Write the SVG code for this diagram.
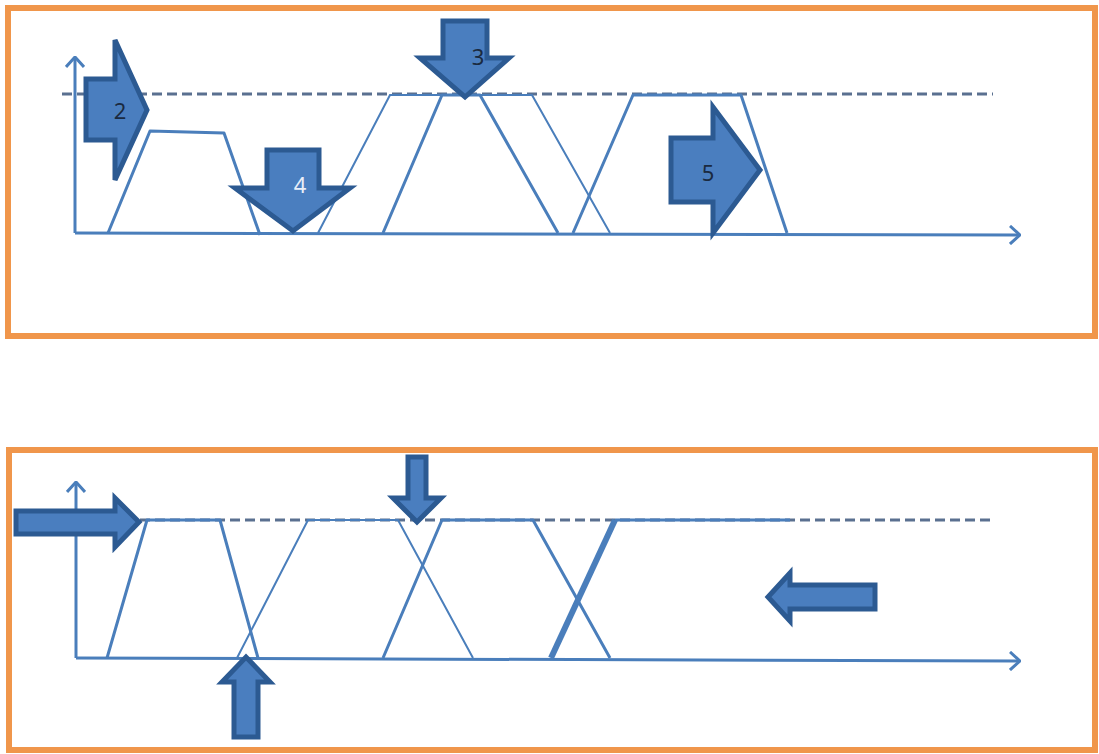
<svg xmlns="http://www.w3.org/2000/svg" width="1099" height="754" viewBox="0 0 1099 754">
  <style>
    .frame { fill: #ffffff; stroke: #f0964b; stroke-width: 6; }
    .axis { fill: none; stroke: #4a7ebb; stroke-width: 3; }
    .guide { fill: none; stroke: #5a7090; stroke-width: 3; stroke-dasharray: 10 5; }
    .curve { fill: none; stroke: #4a7ebb; stroke-width: 3; stroke-linejoin: round; }
    .thin { fill: none; stroke: #4a7ebb; stroke-width: 2; }
    .bold { fill: none; stroke: #4a7ebb; stroke-width: 6; }
    .block { fill: #4a7ebf; stroke: #2c5a92; stroke-width: 5; stroke-linejoin: miter; }
    .lbl { font-family: "Noto Sans", "Liberation Sans", sans-serif; font-size: 22px; text-anchor: middle; fill: #1a2a40; }
    .lbl-light { fill: #e8eef8; }
  </style>
  <defs>
    <marker id="chev" viewBox="0 0 12 20" refX="11" refY="10" markerWidth="12" markerHeight="20" markerUnits="userSpaceOnUse" orient="auto">
      <path d="M1,1 L11,10 L1,19" fill="none" stroke="#4a7ebb" stroke-width="3"/>
    </marker>
  </defs>

  <!-- upper panel -->
  <rect class="frame" x="8" y="8" width="1087" height="328"/>
  <g id="top-axes">
    <path class="axis" d="M75,233 L75,57" marker-end="url(#chev)"/>
    <path class="axis" d="M75,233 L1020,235" marker-end="url(#chev)"/>
    <path class="guide" d="M62,94 L993,94"/>
  </g>
  <g id="top-curves">
    <path class="curve" d="M108,233 L150,131 L224,133 L260,235"/>
    <path class="thin" d="M318,233 L390,95 L532,95 L610,233"/>
    <path class="curve" d="M383,233 L442,95 L480,95 L558,233"/>
    <path class="curve" d="M573,233 L633,95 L741,95 L787,233"/>
  </g>
  <g id="arrow-2">
    <polygon class="block" points="86,79 115,79 115,40 147,110 115,180 115,140 86,140"/>
    <text class="lbl" x="120" y="119">2</text>
  </g>
  <g id="arrow-4">
    <polygon class="block" points="267,150 319,150 319,188 350,188 293,231 235,188 267,188"/>
    <text class="lbl lbl-light" x="300" y="193">4</text>
  </g>
  <g id="arrow-3">
    <polygon class="block" points="443,21 487,21 487,58 509,58 465,97 420,58 443,58"/>
    <text class="lbl" x="478" y="65">3</text>
  </g>
  <g id="arrow-5">
    <polygon class="block" points="671,138 713,138 713,107 760,170 713,233 713,202 671,202"/>
    <text class="lbl" x="708" y="181">5</text>
  </g>

  <!-- lower panel -->
  <rect class="frame" x="9" y="450" width="1086" height="300"/>
  <g id="bottom-axes">
    <path class="axis" d="M76,658 L76,482" marker-end="url(#chev)"/>
    <path class="axis" d="M76,658 L1020,661" marker-end="url(#chev)"/>
    <path class="guide" d="M140,520 L993,520"/>
  </g>
  <g id="bottom-curves">
    <path class="curve" d="M107,658 L147,520 L220,520 L258,658"/>
    <path class="thin" d="M237,658 L308,520 L398,520 L473,658"/>
    <path class="curve" d="M383,658 L442,520 L533,520 L610,658"/>
    <path class="bold" d="M551,658 L615,520"/>
    <path class="curve" d="M615,520 L790,520"/>
  </g>
  <g id="arrow-in">
    <polygon class="block" points="16,511 115,511 115,498 139,522 115,547 115,534 16,534"/>
  </g>
  <g id="arrow-down">
    <polygon class="block" points="408,457 426,457 426,498 441,498 417,522 393,498 408,498"/>
  </g>
  <g id="arrow-up">
    <polygon class="block" points="234,737 258,737 258,682 270,682 246,657 222,682 234,682"/>
  </g>
  <g id="arrow-back">
    <polygon class="block" points="875,585 875,609 790,609 790,621 768,597 790,573 790,585"/>
  </g>
</svg>
